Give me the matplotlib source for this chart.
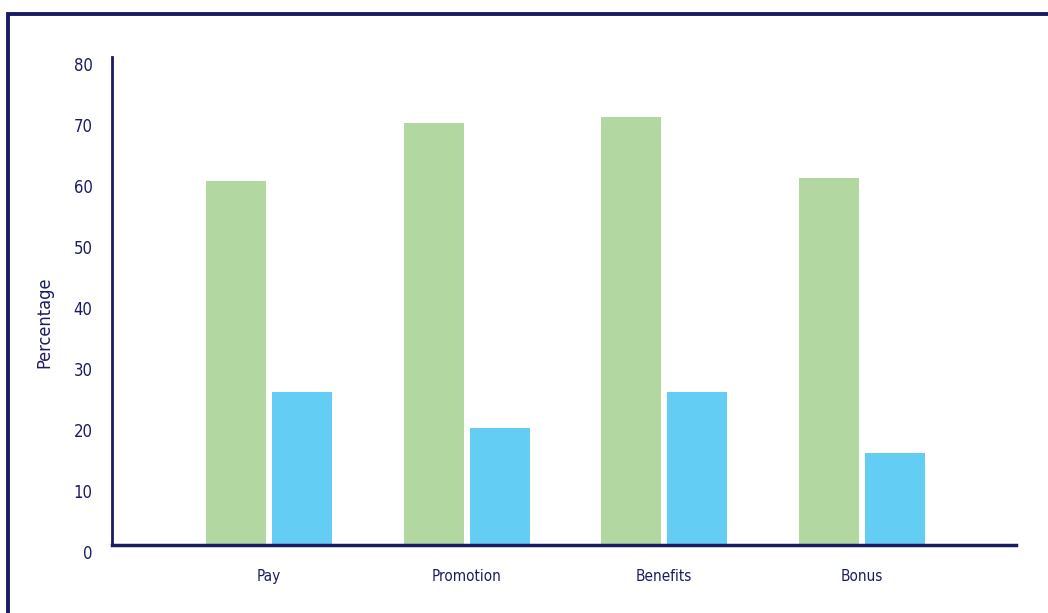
import matplotlib.pyplot as plt
import matplotlib.transforms as mtransforms
from matplotlib.patches import Rectangle
import numpy as np

plt.rcParams['font.family'] = ['DejaVu Sans']
plt.rcParams['font.stretch'] = 'condensed'

categories = ['Pay', 'Promotion', 'Benefits', 'Bonus']
green_vals = [59.7, 69.2, 70.2, 60.2]
blue_vals = [25.1, 19.2, 25.1, 15.1]
yticks = [0, 10, 20, 30, 40, 50, 60, 70, 80]

navy = '#1b1b63'
green = '#b3d7a0'
blue = '#63cdf4'

fig = plt.figure(figsize=(10.48, 6.13), dpi=100)

# outer frame (top and left edges visible)
fig.patches.append(Rectangle((8 / 1048, -0.1), 1.2, 1 - 14 / 613 + 0.1,
                             transform=fig.transFigure, fill=False,
                             edgecolor=navy, linewidth=2.8))

ax = fig.add_axes([112 / 1048, 1 - 545 / 613, 904 / 1048, 488 / 613])

x = np.arange(len(categories))
w = 0.304
gap = 0.015
ax.bar(x - gap - w / 2, green_vals, width=w, color=green)
ax.bar(x + gap + w / 2, blue_vals, width=w, color=blue)

ax.set_xlim(-0.795, 3.78)
ax.set_ylim(0, 80)

ax.set_xticks(x)
ax.set_xticklabels(categories, fontsize=11, color=navy)
ax.set_yticks(yticks)
ax.set_yticklabels([str(v) for v in yticks], fontsize=12, color=navy)
ax.tick_params(axis='both', length=0)
ax.tick_params(axis='y', pad=14)
ax.tick_params(axis='x', pad=17)

# tick labels sit a little below their values
off = mtransforms.ScaledTranslation(0, -7 / 100, fig.dpi_scale_trans)
for lab in ax.get_yticklabels():
    lab.set_transform(lab.get_transform() + off)

ax.set_ylabel('Percentage', fontsize=13, color=navy, va='center')
ax.yaxis.set_label_coords(-0.075, 0.457)

for s in ['top', 'right']:
    ax.spines[s].set_visible(False)
ax.spines['left'].set_color(navy)
ax.spines['left'].set_linewidth(2)
ax.spines['bottom'].set_color(navy)
ax.spines['bottom'].set_linewidth(2.5)

fig.savefig('out.png', dpi=100)
